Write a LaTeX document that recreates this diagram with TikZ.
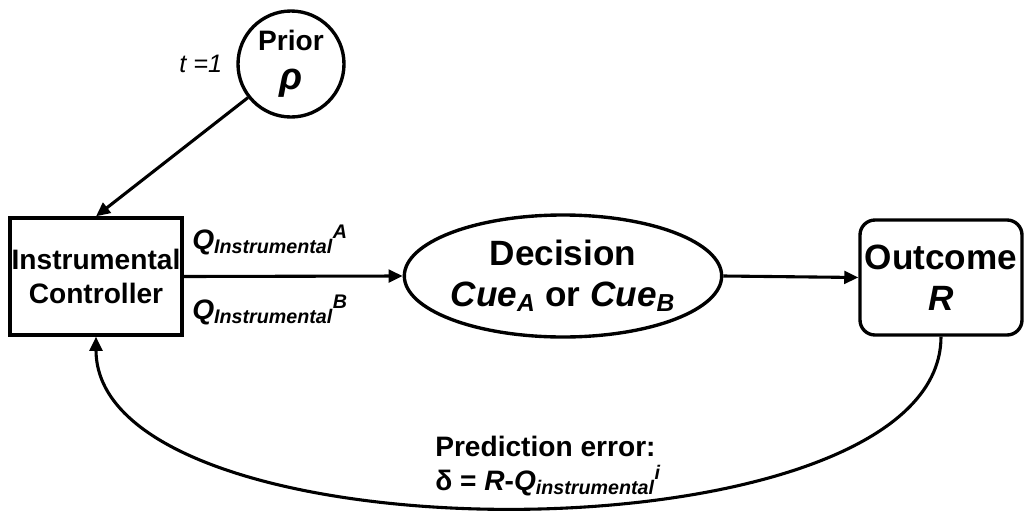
\documentclass[tikz,border=0pt]{standalone}
\usepackage{fontspec}
\setmainfont{Liberation Sans}
\usepackage{tikz}
\usetikzlibrary{arrows.meta,positioning,shapes.geometric,calc}

\begin{document}
\begin{tikzpicture}[
  every node/.style={align=center, inner sep=0pt},
  normal/.style={font=\fontsize{20}{24}\selectfont\bfseries},
  big/.style={font=\fontsize{25}{29}\selectfont\bfseries},
  box/.style={rectangle, draw, line width=2.4pt, minimum width=4.3cm, minimum height=2.925cm},
  roundbox/.style={rectangle, draw, rounded corners=0.375cm, line width=2.4pt, minimum width=4.05cm, minimum height=2.875cm},
  oval/.style={ellipse, draw, line width=2.4pt, minimum width=6.55cm, minimum height=3.05cm},
  prior/.style={circle, draw, line width=2.4pt, minimum size=2.65cm},
  arrow/.style={-{Triangle[length=10pt,width=9pt]}, line width=2.2pt}
]
\useasboundingbox (0,0) rectangle (25.65,-12.925);

% Prior node with its time label
\node[prior, normal] (prior) at (7.275,-1.6) {Prior\\[4pt]{\fontsize{27}{27}\selectfont\itshape ρ}};
\node[font=\fontsize{18}{20}\selectfont\itshape] (time) at (5.02,-1.6) {t =1};

% Instrumental controller
\node[box, normal] (ctrl) at (2.4,-6.9125) {Instrumental\\Controller};

% Decision
\node[oval, big] (dec) at (14.075,-6.9) {Decision\\
  \textit{Cue\textsubscript{A}} or \textit{Cue\textsubscript{B}}};

% Outcome
\node[roundbox, big] (out) at (23.525,-6.9375) {Outcome\\\textit{R}};

% Value labels on the first arrow
\node[normal, font=\fontsize{20}{24}\selectfont\bfseries\itshape, anchor=west] (qa) at (4.8,-6.0)
  {Q\textsubscript{Instrumental}\textsuperscript{A}};
\node[normal, font=\fontsize{20}{24}\selectfont\bfseries\itshape, anchor=west] (qb) at (4.8,-7.75)
  {Q\textsubscript{Instrumental}\textsuperscript{B}};

% Prediction error label
\node[normal, align=left, anchor=west] (err) at (10.875,-11.65)
  {Prediction error:\\δ = \textit{R}-\textit{Q\textsubscript{instrumental}\textsuperscript{i}}};

% Arrows
\draw[arrow] (prior) -- (ctrl.north);
\draw[arrow] (ctrl.east) -- (dec.west);
\draw[arrow] (dec.east) -- (out.west);
\draw[arrow] (out.south) .. controls +(0,-5.7) and +(0,-5.7) .. (ctrl.south);

\end{tikzpicture}
\end{document}
